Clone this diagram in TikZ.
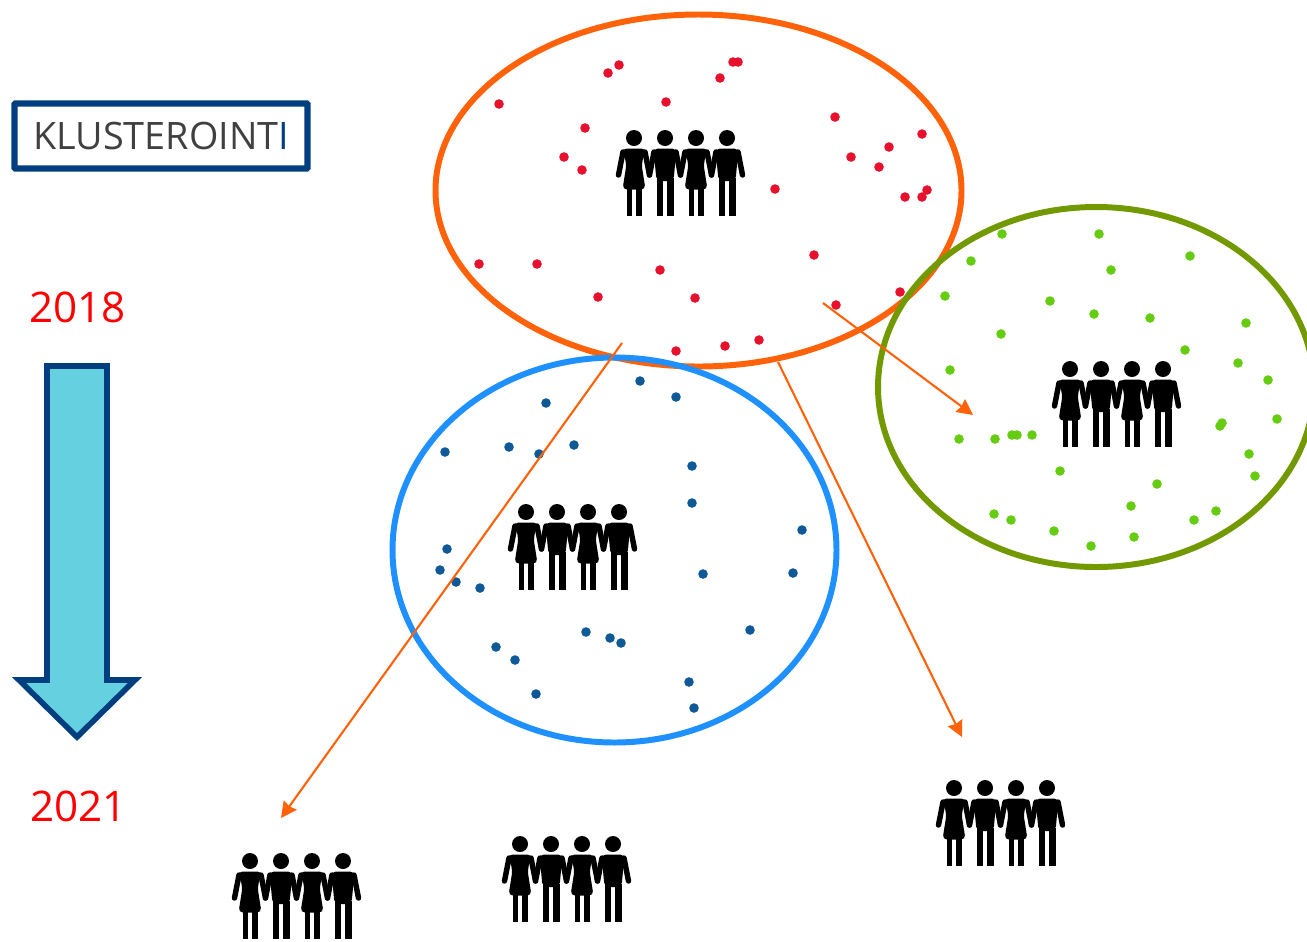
\documentclass[tikz,border=0pt]{standalone}
\usepackage{fontspec}
\setmainfont{Open Sans}
\usetikzlibrary{arrows.meta,shapes.geometric}
\definecolor{navyline}{HTML}{003F7F}
\definecolor{skyfill}{HTML}{65D0E0}
\definecolor{orangeline}{HTML}{FF6209}
\definecolor{blueline}{HTML}{1E90FF}
\definecolor{greenline}{HTML}{739900}
\definecolor{reddot}{HTML}{E8112D}
\definecolor{bluedot}{HTML}{0F5A96}
\definecolor{greendot}{HTML}{66CC11}
\tikzset{
  yearlabel/.style={text=red,font=\fontsize{24}{28}\selectfont,inner sep=0pt},
  cluster/.style={draw=#1,ellipse,line width=3.4pt,inner sep=0pt},
  trend/.style={-{Stealth[length=9pt,width=9pt,inset=0.8pt]},orangeline,line width=1.2pt},
  limb/.style={line width=3.1pt,line cap=round,line join=round},
  woman/.pic={
    \fill (0,0) circle (8);
    \fill[rounded corners=2.5pt] (-12,10.5) -- (12,10.5) -- (7.5,26) -- (11.5,51.5) -- (-11.5,51.5) -- (-7.5,26) -- cycle;
    \draw[limb] (-11,14) -- (-15.5,37);
    \draw[limb] (11,14) -- (15.5,37);
    \fill (-7.5,50) rectangle (-1.7,78);
    \fill (1.7,50) rectangle (7.7,78);
  },
  man/.pic={
    \fill (0,0) circle (8);
    \fill[rounded corners=2.5pt] (-11.5,10.5) -- (11.5,10.5) -- (8.5,43) -- (-8.5,43) -- cycle;
    \draw[limb] (-11,14) -- (-15.5,37);
    \draw[limb] (11,14) -- (15.5,37);
    \fill (-8.5,40) rectangle (-2.2,78);
    \fill (2.2,40) rectangle (8.5,78);
  },
  people/.pic={
    \pic at (0,0) {woman};
    \pic at (31,0) {man};
    \pic at (62,0) {woman};
    \pic at (93,0) {man};
  },
}
\begin{document}
\begin{tikzpicture}[x=0.02cm,y=-0.02cm]
  \clip (0,0) rectangle (1307,941);
  % title and time axis
  \node (title) [draw=navyline,line width=3.6pt,rounded corners=0.5pt,minimum width=293*0.02cm,minimum height=65*0.02cm,inner sep=0pt,font=\fontsize{21.5}{26}\selectfont,text=black!75] at (161,136) {KLUSTEROINT\textcolor{navyline}{I}};
  \node (start) [yearlabel] at (77.5,307) {2018};
  \node (end) [yearlabel] at (78.5,806) {2021};
  \draw[draw=navyline,fill=skyfill,line width=3.2pt,line join=miter]
    (47,366) -- (107,366) -- (107,680) -- (135,680) -- (77,737) -- (19,680) -- (47,680) -- cycle;
  % clusters
  \node (orangecl) [cluster=orangeline,minimum width=526*0.02cm,minimum height=352*0.02cm] at (698.5,190.5) {};
  \node (bluecl) [cluster=blueline,minimum width=444*0.02cm,minimum height=385*0.02cm] at (614.5,550) {};
  \node (greencl) [cluster=greenline,minimum width=436*0.02cm,minimum height=360*0.02cm] at (1096,387) {};
  \foreach \x/\y in {608/73,619/65,720/78,733/62,738/62,666/102,499/104,585/128,564/157,582/170,
    835/117,922/134,889/147,851/157,879/167,775/189,905/197,922/197,927/190,814/255,479/264,
    537/264,660/270,598/297,695/298,836/305,900/292,759/340,725/346,676/351}
    \fill[reddot] (\x,\y) circle (4.8);
  \foreach \x/\y in {640/381,676/397,546/403,445/452,509/447,539/454,574/445,692/466,692/503,
    802/530,447/549,440/570,456/582,480/588,703/574,793/573,586/632,610/638,621/643,750/630,
    496/647,515/660,689/682,536/694,694/708}
    \fill[bluedot] (\x,\y) circle (4.8);
  \foreach \x/\y in {1002/234,1099/234,971/261,1111/270,1190/256,945/296,1050/301,1094/314,
    1150/318,1246/323,1001/334,1185/350,1238/363,950/370,1268/380,1277/419,1220/426,1222/423,
    959/439,995/439,1012/435,1017/435,1032/435,1249/454,1060/471,1255/476,1157/484,1131/506,
    1216/511,1194/520,994/514,1011/520,1054/531,1134/537,1091/546}
    \fill[greendot] (\x,\y) circle (4.8);
  % people
  \pic at (634,138) {people};
  \pic at (1070,369) {people};
  \pic at (526,512) {people};
  \pic at (250,861) {people};
  \pic at (520,844) {people};
  \pic at (954,788) {people};
  % moves between the clusters
  \coordinate (from1) at (622,343);
  \coordinate (to1) at (281,818);
  \coordinate (from2) at (778,362);
  \coordinate (to2) at (962,737);
  \coordinate (from3) at (823,303);
  \coordinate (to3) at (973,415);
  \path[trend]
    (from1) edge (to1)
    (from2) edge (to2)
    (from3) edge (to3);
\end{tikzpicture}
\end{document}
